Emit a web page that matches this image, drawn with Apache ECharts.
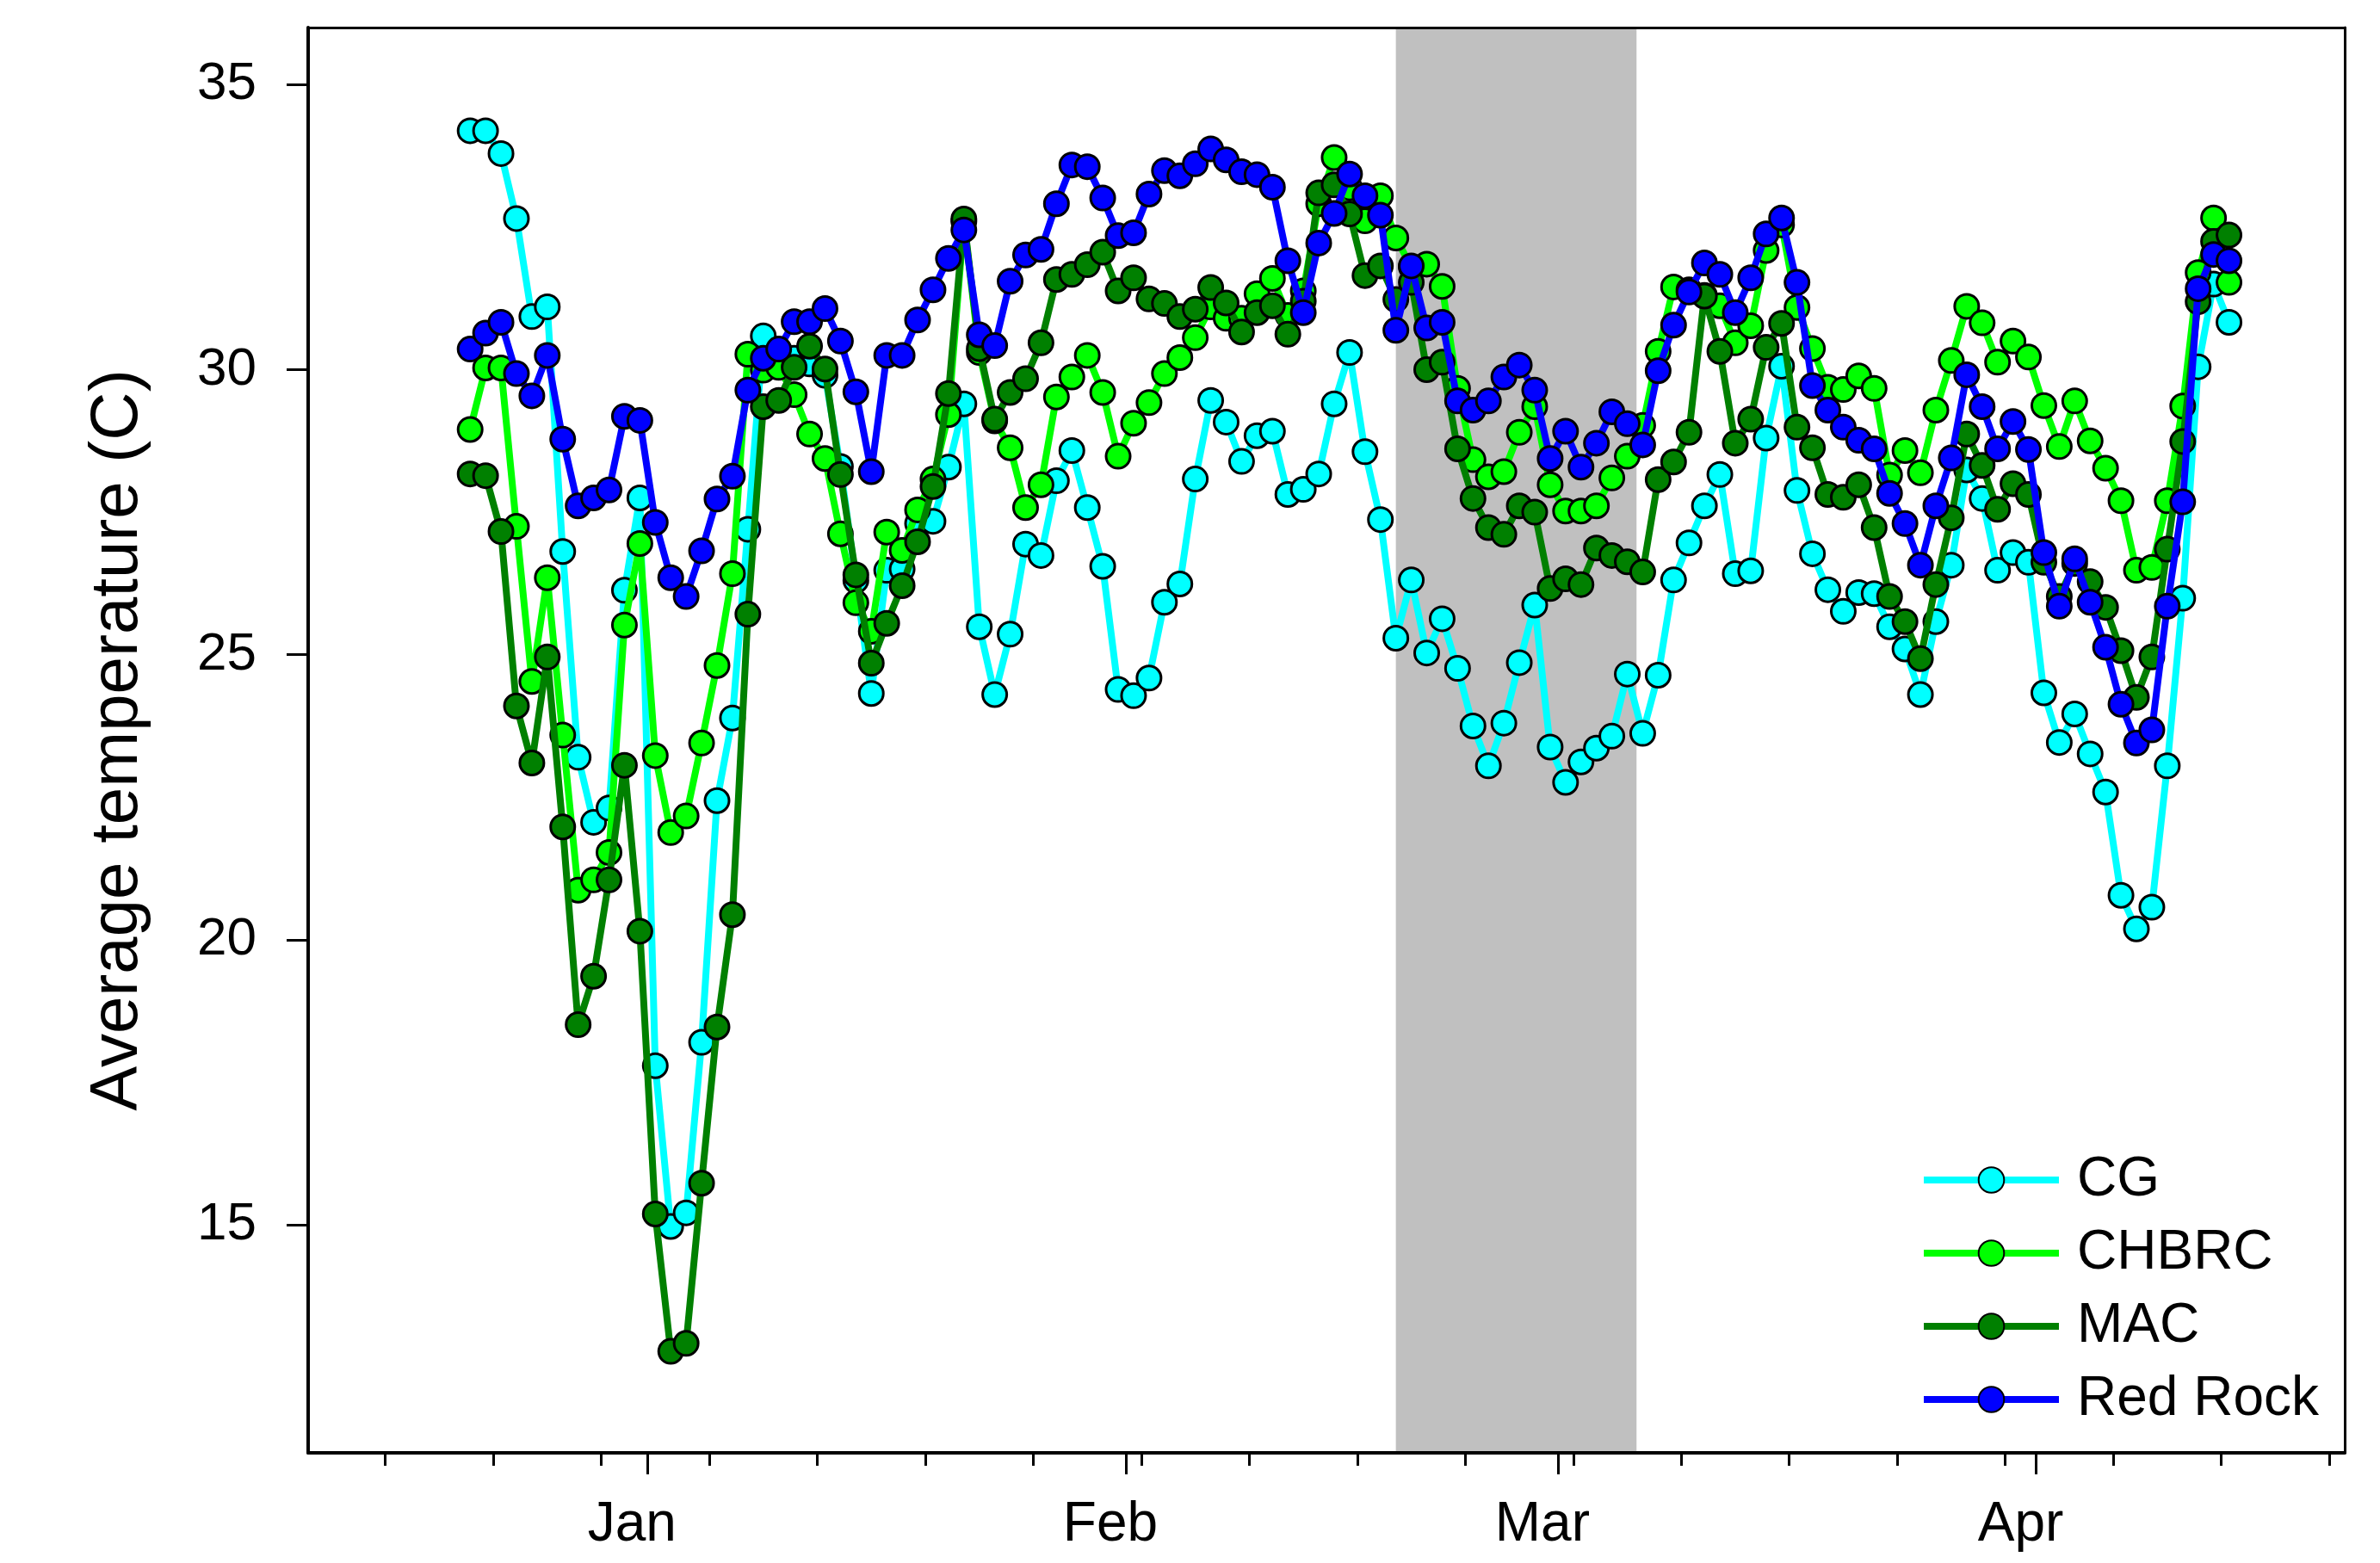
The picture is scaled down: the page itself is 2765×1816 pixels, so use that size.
<!DOCTYPE html>
<html>
<head>
<meta charset="utf-8">
<script src="https://cdn.jsdelivr.net/npm/echarts@6/dist/echarts.min.js"></script>
<style>
  html, body { margin: 0; padding: 0; background: #fff; }
  #main { width: 2765px; height: 1816px; }
</style>
</head>
<body>
<div id="main"></div>
<script>
// days are counted from 1 Jan (0 = Jan 1); first record is 20 Dec
var firstDay = -12;

var seriesNames = ["CG", "CHBRC", "MAC", "Red Rock"];
var seriesColors = ["#00FFFF", "#00FF00", "#008000", "#0000FF"];

// daily average temperature (C), 20 Dec .. 13 Apr
var cg = [34.19, 34.19, 33.79, 32.65, 30.93, 31.10, 26.81, 23.20, 22.06, 22.31, 26.13, 27.75,
  17.79, 14.97, 15.21, 18.20, 22.44, 23.89, 27.20, 30.59, 30.30, 30.20,
  30.10, 29.90, 28.30, 26.30, 24.32, 26.48, 26.50, 27.30, 27.34, 28.29,
  29.40, 25.49, 24.30, 25.36, 26.94, 26.74, 28.05, 28.58, 27.58, 26.55,
  24.39, 24.28, 24.59, 25.92, 26.24, 28.08, 29.46, 29.08, 28.39, 28.84,
  28.92, 27.81, 27.90, 28.17, 29.40, 30.30, 28.56, 27.37, 25.29, 26.31,
  25.03, 25.63, 24.76, 23.75, 23.05, 23.80, 24.86, 25.87, 23.38, 22.76,
  23.12, 23.36, 23.57, 24.66, 23.62, 24.64, 26.31, 26.96, 27.61, 28.16,
  26.42, 26.47, 28.80, 30.06, 27.88, 26.77, 26.14, 25.76, 26.09, 26.07,
  25.49, 25.10, 24.30, 25.58, 26.57, 28.24, 27.74, 26.48, 26.79, 26.62,
  24.33, 23.46, 23.96, 23.26, 22.59, 20.78, 20.19, 20.57, 23.05, 25.99,
  30.05, 31.50, 30.83];

var chbrc = [28.95, 30.03, 30.03, 27.25, 24.53, 26.35, 23.59, 20.87, 21.05, 21.53, 25.52, 26.95,
  23.23, 21.88, 22.17, 23.45, 24.81, 26.42, 30.27, 29.99, 30.04, 29.56,
  28.87, 28.44, 27.12, 25.91, 25.41, 27.15, 26.83, 27.54, 28.08, 29.21,
  32.60, 30.30, 29.10, 28.63, 27.58, 27.98, 29.52, 29.87, 30.25, 29.60,
  28.48, 29.06, 29.42, 29.93, 30.21, 30.56, 31.10, 30.90, 30.90, 31.33,
  31.60, 30.95, 31.38, 32.91, 33.72, 33.19, 32.61, 33.05, 32.31, 31.80,
  31.85, 31.46, 29.67, 28.42, 28.12, 28.21, 28.90, 29.35, 27.98, 27.52,
  27.52, 27.61, 28.10, 28.48, 29.02, 30.32, 31.45, 31.40, 31.30, 31.12,
  30.47, 30.77, 32.09, 32.54, 31.09, 30.37, 29.69, 29.65, 29.89, 29.67,
  28.15, 28.58, 28.19, 29.29, 30.16, 31.11, 30.82, 30.13, 30.50, 30.22,
  29.37, 28.65, 29.45, 28.75, 28.27, 27.70, 26.48, 26.53, 27.70, 29.36,
  31.70, 32.66, 31.53];

var mac = [28.17, 28.14, 27.16, 24.10, 23.10, 24.96, 21.98, 18.51, 19.36, 21.05, 23.06, 20.15,
  15.19, 12.78, 12.92, 15.73, 18.47, 20.44, 25.71, 29.35, 29.46, 30.04,
  30.41, 30.01, 28.16, 26.40, 24.85, 25.55, 26.21, 26.98, 27.95, 29.58,
  32.64, 30.37, 29.13, 29.60, 29.84, 30.47, 31.58, 31.67, 31.84, 32.06,
  31.38, 31.61, 31.24, 31.16, 30.93, 31.06, 31.44, 31.17, 30.66, 31.00,
  31.12, 30.62, 31.20, 33.10, 33.24, 32.73, 31.65, 31.82, 31.23, 31.53,
  30.00, 30.13, 28.61, 27.74, 27.23, 27.11, 27.61, 27.50, 26.16, 26.33,
  26.23, 26.87, 26.74, 26.63, 26.45, 28.07, 28.38, 28.90, 31.29, 30.32,
  28.71, 29.13, 30.39, 30.81, 28.99, 28.63, 27.81, 27.76, 27.98, 27.23,
  26.02, 25.58, 24.93, 26.23, 27.40, 28.87, 28.32, 27.55, 28.00, 27.81,
  26.62, 26.02, 26.60, 26.28, 25.83, 25.07, 24.25, 24.96, 26.85, 28.74,
  31.19, 32.25, 32.36];

var redRock = [30.36, 30.64, 30.83, 29.93, 29.54, 30.25, 28.78, 27.61, 27.75, 27.89, 29.18, 29.11,
  27.32, 26.35, 26.02, 26.82, 27.73, 28.13, 29.64, 30.20, 30.36, 30.84,
  30.84, 31.07, 30.50, 29.61, 28.21, 30.25, 30.25, 30.87, 31.40, 31.95,
  32.45, 30.61, 30.42, 31.55, 32.01, 32.11, 32.91, 33.59, 33.56, 33.01,
  32.35, 32.40, 33.08, 33.49, 33.40, 33.61, 33.87, 33.68, 33.47, 33.42,
  33.20, 31.91, 31.00, 32.22, 32.74, 33.43, 33.05, 32.71, 30.69, 31.82,
  30.73, 30.83, 29.45, 29.29, 29.45, 29.87, 30.08, 29.64, 28.44, 28.92,
  28.29, 28.71, 29.26, 29.05, 28.68, 29.98, 30.78, 31.36, 31.87, 31.67,
  31.00, 31.61, 32.38, 32.66, 31.53, 29.72, 29.29, 28.99, 28.76, 28.61,
  27.83, 27.30, 26.57, 27.61, 28.45, 29.91, 29.35, 28.61, 29.09, 28.60,
  26.79, 25.85, 26.68, 25.92, 25.13, 24.13, 23.45, 23.68, 25.85, 27.68,
  31.42, 32.02, 31.91];

var monthNames = ["Jan", "Feb", "Mar", "Apr"];
var monthStarts = [0, 31, 59, 90];
var weekTicks = [-17, -10, -3, 4, 11, 18, 25, 32, 39, 46, 53, 60, 67, 74, 81, 88, 95, 102, 109];
var yTicks = [15, 20, 25, 30, 35];
// grey band (day numbers)
var shadeDays = [48.5, 64.1];

var font = "'Liberation Sans', Arial, sans-serif";

function toPoints(values) {
  // each daily mean is plotted at midday
  return values.map(function (v, i) { return [firstDay + i + 0.5, v]; });
}

function makeSeries(name, color, values, z) {
  return {
    name: name,
    type: "line",
    z: z,
    data: toPoints(values),
    symbol: "circle",
    symbolSize: 28,
    lineStyle: { color: color, width: 8 },
    itemStyle: { color: color, borderColor: "#000", borderWidth: 3 },
    emphasis: { disabled: true }
  };
}

var chart = echarts.init(document.getElementById("main"));
chart.setOption({
  animation: false,
  backgroundColor: "#fff",
  grid: { left: 358, top: 32, width: 2366, height: 1656, show: false },
  legend: {
    orient: "vertical",
    left: 2226,
    top: 1334,
    itemWidth: 157,
    itemHeight: 37,
    itemGap: 21,
    selectedMode: false,
    data: seriesNames,
    lineStyle: { width: 8 },
    textStyle: { fontSize: 64, lineHeight: 64, color: "#000", fontFamily: font, padding: [0, 0, 0, 16] }
  },
  xAxis: [
    {
      type: "value", min: -22, max: 110, position: "bottom", z: 10,
      axisLine: { show: true, onZero: false, lineStyle: { color: "#000", width: 4 } },
      axisTick: { show: true, customValues: weekTicks, length: 15, lineStyle: { color: "#000", width: 3 } },
      axisLabel: { show: false },
      splitLine: { show: false }
    },
    {
      type: "value", min: -22, max: 110, position: "bottom", z: 10,
      axisLine: { show: false, onZero: false },
      axisTick: { show: true, customValues: monthStarts, length: 25, lineStyle: { color: "#000", width: 3 } },
      axisLabel: {
        show: true, customValues: monthStarts, margin: 52,
        fontSize: 64, color: "#000", fontFamily: font, padding: [0, 36, 0, 0],
        formatter: function (v) { return monthNames[monthStarts.indexOf(v)]; }
      },
      splitLine: { show: false }
    },
    {
      type: "value", min: -22, max: 110, position: "top", z: 10,
      axisLine: { show: true, onZero: false, lineStyle: { color: "#000", width: 3 } },
      axisTick: { show: false }, axisLabel: { show: false }, splitLine: { show: false }
    }
  ],
  yAxis: [
    {
      type: "value", min: 11, max: 36, position: "left", z: 10,
      name: "Average temperature (C)",
      nameLocation: "middle",
      nameGap: 182,
      nameTextStyle: { fontSize: 78, color: "#000", fontFamily: font },
      axisLine: { show: true, onZero: false, lineStyle: { color: "#000", width: 4 } },
      axisTick: { show: true, customValues: yTicks, length: 25, lineStyle: { color: "#000", width: 3 } },
      axisLabel: { show: true, customValues: yTicks, margin: 60, fontSize: 62, color: "#000", fontFamily: font },
      splitLine: { show: false }
    },
    {
      type: "value", min: 11, max: 36, position: "right", z: 10,
      axisLine: { show: true, onZero: false, lineStyle: { color: "#000", width: 3 } },
      axisTick: { show: false }, axisLabel: { show: false }, splitLine: { show: false }
    }
  ],
  series: [
    {
      type: "line",
      data: [],
      z: 1,
      silent: true,
      markArea: {
        silent: true,
        itemStyle: { color: "#C0C0C0" },
        data: [[{ xAxis: shadeDays[0] }, { xAxis: shadeDays[1] }]]
      }
    },
    makeSeries(seriesNames[0], seriesColors[0], cg, 2),
    makeSeries(seriesNames[1], seriesColors[1], chbrc, 3),
    makeSeries(seriesNames[2], seriesColors[2], mac, 4),
    makeSeries(seriesNames[3], seriesColors[3], redRock, 5)
  ]
});
</script>
</body>
</html>
